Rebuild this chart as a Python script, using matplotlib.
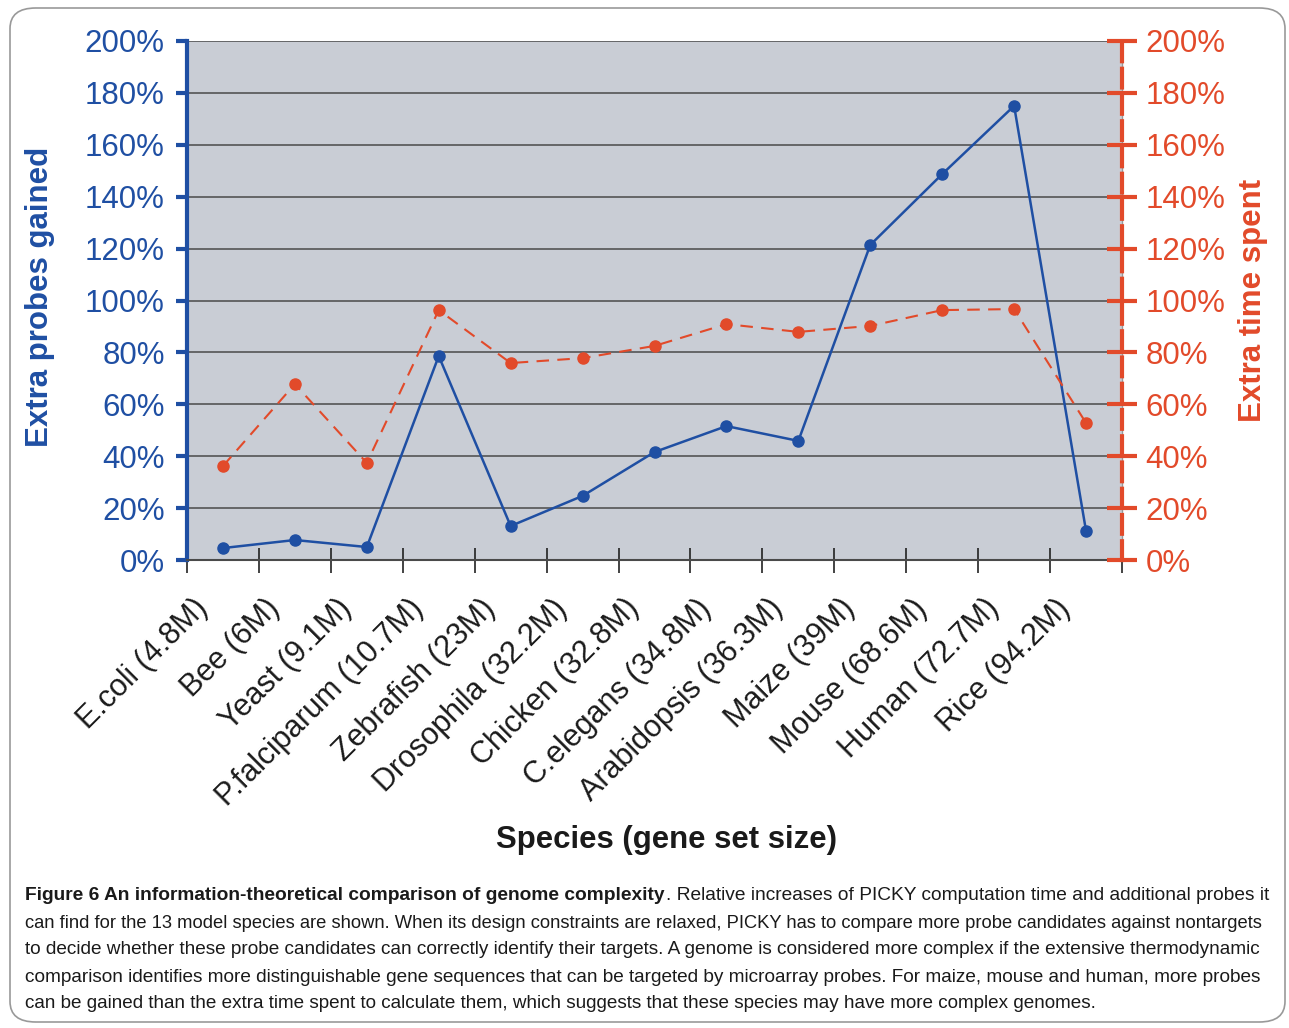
import matplotlib
matplotlib.use("Agg")
import matplotlib.pyplot as plt
from matplotlib.patches import FancyBboxPatch
from matplotlib.ticker import FixedLocator, FuncFormatter
from matplotlib.transforms import ScaledTranslation

plt.rcParams['font.family'] = ['Liberation Sans', 'DejaVu Sans']

# data
species = ['E.coli (4.8M)', 'Bee (6M)', 'Yeast (9.1M)', 'P.falciparum (10.7M)',
           'Zebrafish (23M)', 'Drosophila (32.2M)', 'Chicken (32.8M)',
           'C.elegans (34.8M)', 'Arabidopsis (36.3M)', 'Maize (39M)',
           'Mouse (68.6M)', 'Human (72.7M)', 'Rice (94.2M)']
probes_gained = [4.6, 7.7, 5.0, 78.6, 13.1, 24.7, 41.6, 51.6, 45.9, 121.4, 148.7, 175.0, 11.2]
time_spent = [36.2, 67.8, 37.4, 96.3, 75.9, 77.8, 82.5, 90.9, 87.9, 90.2, 96.3, 96.7, 52.8]
y_ticks = [0, 20, 40, 60, 80, 100, 120, 140, 160, 180, 200]

caption_bold = 'Figure 6 An information-theoretical comparison of genome complexity'
caption_lines = [
    '. Relative increases of PICKY computation time and additional probes it',
    'can find for the 13 model species are shown. When its design constraints are relaxed, PICKY has to compare more probe candidates against nontargets',
    'to decide whether these probe candidates can correctly identify their targets. A genome is considered more complex if the extensive thermodynamic',
    'comparison identifies more distinguishable gene sequences that can be targeted by microarray probes. For maize, mouse and human, more probes',
    'can be gained than the extra time spent to calculate them, which suggests that these species may have more complex genomes.',
]

blue = '#1f4fa3'
orange = '#e24a2a'

W, H = 1289, 1028
fig = plt.figure(figsize=(W / 100, H / 100), dpi=100)

# rounded frame around the whole figure
frame = FancyBboxPatch((10 / W, 6 / H), 1275 / W, 1014 / H,
                       boxstyle='round,pad=0,rounding_size=0.02',
                       transform=fig.transFigure, fill=False,
                       edgecolor='#999999', linewidth=1.2)
fig.patches.append(frame)

ax = fig.add_axes([187 / W, 1 - 560 / H, (1122 - 187) / W, (560 - 41) / H])
ax.set_facecolor('#c9cdd5')

x = [i + 0.5 for i in range(len(species))]
ax.plot(x, probes_gained, color=blue, lw=1.8, marker='o', ms=8, zorder=4)
ax.set_xlim(0, len(species))
ax.set_ylim(0, 200)

ax.yaxis.set_major_locator(FixedLocator(y_ticks))
ax.yaxis.set_major_formatter(FuncFormatter(lambda v, p: f'{v:.0f}%'))
ax.grid(axis='y', color='#4a4a4a', lw=1.1)
ax.set_axisbelow(True)

ax.xaxis.set_major_locator(FixedLocator(range(len(species) + 1)))
ax.set_xticklabels([])
ax.set_xticks(x, species, minor=True)
ax.tick_params(axis='x', which='major', direction='inout', length=18, width=1.2, color='#222222')
ax.tick_params(axis='x', which='minor', length=0, pad=24, labelsize=22, labelcolor='#1a1a1a')
shift = ScaledTranslation(-22 / 72, 0, fig.dpi_scale_trans)
for lab in ax.get_xticklabels(minor=True):
    lab.set_rotation(45)
    lab.set_ha('right')
    lab.set_va('top')
    lab.set_rotation_mode('anchor')
    lab.set_transform(lab.get_transform() + shift)

ax.tick_params(axis='y', direction='out', length=8, width=3, color=blue,
               labelcolor=blue, labelsize=22.5, pad=8)
ax.spines['left'].set_color(blue)
ax.spines['left'].set_linewidth(3)
ax.spines['top'].set_visible(False)
ax.spines['bottom'].set_color('#4a4a4a')
ax.spines['bottom'].set_linewidth(1.5)
ax.spines['right'].set_color('#999999')
ax.spines['right'].set_linewidth(1)

ax.set_ylabel('Extra probes gained', color=blue, fontsize=22.5, fontweight='bold')
ax.yaxis.set_label_coords((40 - 187) / 935, (560 - 297) / 519)
ax.yaxis.label.set_va('center')
ax.set_xlabel('Species (gene set size)', color='#1a1a1a', fontsize=22.4, fontweight='bold')
ax.xaxis.set_label_coords((667 - 187) / 935, (560 - 840) / 519)
ax.xaxis.label.set_va('center')

ax2 = ax.twinx()
ax2.plot(x, time_spent, color=orange, lw=1.5, ls=(0, (6, 4)), marker='o', ms=8, zorder=4)
ax2.set_ylim(0, 200)
ax2.yaxis.set_major_locator(FixedLocator(y_ticks))
ax2.yaxis.set_major_formatter(FuncFormatter(lambda v, p: f'{v:.0f}%'))
ax2.tick_params(axis='y', direction='inout', length=22, width=3, color=orange,
                labelcolor=orange, labelsize=22.5, pad=6)
for s in ['left', 'top', 'bottom']:
    ax2.spines[s].set_visible(False)
ax2.spines['right'].set_color(orange)
ax2.spines['right'].set_linewidth(3)
ax2.spines['right'].set_linestyle((0, (4.5, 1.8)))
ax2.set_ylabel('Extra time spent', color=orange, fontsize=22.5, fontweight='bold')
ax2.yaxis.set_label_coords((1253 - 187) / 935, (560 - 300) / 519)
ax2.yaxis.label.set_va('center')

# caption with bold lead-in, each line fitted to the justified width
fs = 14
x0, x1 = 25, 1275
line_y = [896, 923, 950, 977, 1003]
cap_col = '#1a1a1a'
fig.canvas.draw()
r = fig.canvas.get_renderer()

tb = fig.text(x0 / W, 1 - line_y[0] / H, caption_bold, fontsize=fs, fontweight='bold',
              va='center', ha='left', color=cap_col)
tr = fig.text(0, 1 - line_y[0] / H, caption_lines[0], fontsize=fs,
              va='center', ha='left', color=cap_col)
wb = tb.get_window_extent(r).width
wr = tr.get_window_extent(r).width
k = (x1 - x0) / (wb + wr)
tb.set_fontsize(fs * k)
tr.set_fontsize(fs * k)
tr.set_x((x0 + wb * k) / W)
sizes = [fs * k]

for yy, line in zip(line_y[1:4], caption_lines[1:4]):
    t = fig.text(x0 / W, 1 - yy / H, line, fontsize=fs, va='center', ha='left', color=cap_col)
    w = t.get_window_extent(r).width
    t.set_fontsize(fs * (x1 - x0) / w)
    sizes.append(fs * (x1 - x0) / w)
fig.text(x0 / W, 1 - line_y[4] / H, caption_lines[4], fontsize=sum(sizes) / len(sizes),
         va='center', ha='left', color=cap_col)

fig.savefig('out.png', dpi=100)
